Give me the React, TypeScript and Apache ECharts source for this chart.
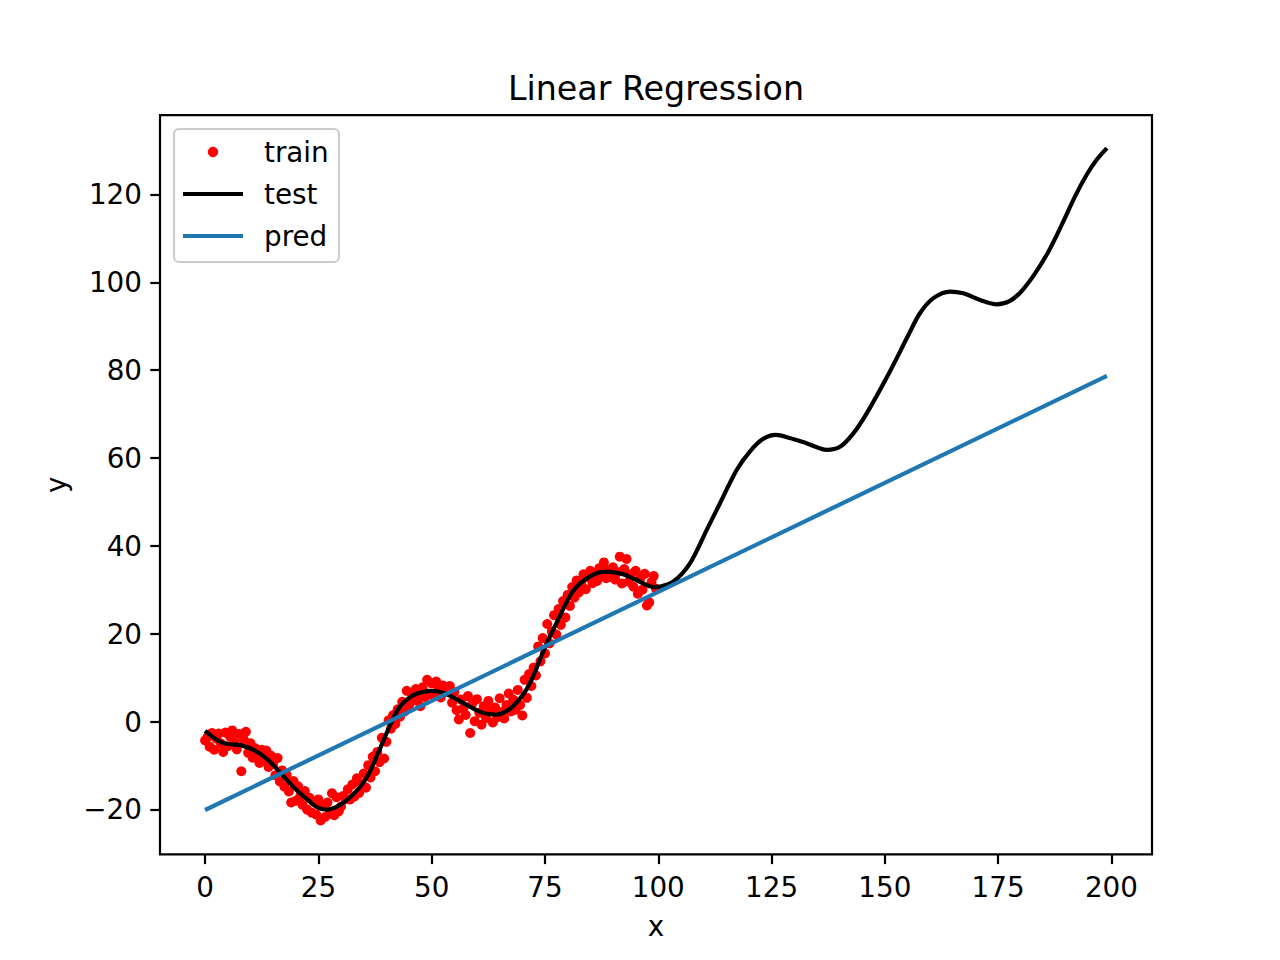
import React, { useEffect, useRef } from "react";
import * as echarts from "echarts";

// ---- data ----
const trainX = [
  0, 0.5, 1, 1.5, 2, 2.5, 3, 3.5, 4, 4.5, 5, 5.5, 6, 6.5, 7, 7.5, 8, 8.5, 9, 9.5,
  10, 10.5, 11, 11.5, 12, 12.5, 13, 13.5, 14, 14.5, 15, 15.5, 16, 16.5, 17, 17.5, 18, 18.5, 19, 19.5,
  20, 20.5, 21, 21.5, 22, 22.5, 23, 23.5, 24, 24.5, 25, 25.5, 26, 26.5, 27, 27.5, 28, 28.5, 29, 29.5,
  30, 30.5, 31, 31.5, 32, 32.5, 33, 33.5, 34, 34.5, 35, 35.5, 36, 36.5, 37, 37.5, 38, 38.5, 39, 39.5,
  40, 40.5, 41, 41.5, 42, 42.5, 43, 43.5, 44, 44.5, 45, 45.5, 46, 46.5, 47, 47.5, 48, 48.5, 49, 49.5,
  50, 50.5, 51, 51.5, 52, 52.5, 53, 53.5, 54, 54.5, 55, 55.5, 56, 56.5, 57, 57.5, 58, 58.5, 59, 59.5,
  60, 60.5, 61, 61.5, 62, 62.5, 63, 63.5, 64, 64.5, 65, 65.5, 66, 66.5, 67, 67.5, 68, 68.5, 69, 69.5,
  70, 70.5, 71, 71.5, 72, 72.5, 73, 73.5, 74, 74.5, 75, 75.5, 76, 76.5, 77, 77.5, 78, 78.5, 79, 79.5,
  80, 80.5, 81, 81.5, 82, 82.5, 83, 83.5, 84, 84.5, 85, 85.5, 86, 86.5, 87, 87.5, 88, 88.5, 89, 89.5,
  90, 90.5, 91, 91.5, 92, 92.5, 93, 93.5, 94, 94.5, 95, 95.5, 96, 96.5, 97, 97.5, 98, 98.5, 99, 99.5,
];
const trainY = [
  -4.2, -3.5, -5.6, -2.5, -6.3, -3.8, -2.6, -4.9, -6.8, -2.4, -5.5, -3.3, -1.9, -4.6, -6.2, -2.7, -11.2, -3.9, -2.2, -7.0,
  -4.8, -8.1, -5.9, -7.4, -9.3, -6.3, -8.8, -6.5, -10.2, -7.6, -9.6, -12.1, -8.2, -13.5, -11.0, -14.7, -12.0, -15.8, -18.3, -13.4,
  -17.9, -14.6, -16.9, -18.8, -15.7, -19.9, -17.2, -20.6, -18.1, -21.0, -17.6, -22.4, -19.0, -21.6, -18.3, -20.9, -16.2, -21.2, -17.1, -20.3,
  -19.2, -16.8, -17.5, -15.3, -17.6, -14.2, -16.9, -12.8, -16.1, -14.0, -11.7, -14.9, -9.8, -12.6, -7.9, -11.2, -6.8, -9.1, -3.6, -8.3,
  -4.5, 0.4, -1.5, 1.6, -0.4, 2.9, 1.2, 4.6, 2.4, 7.1, 3.8, 6.6, 4.9, 7.5, 5.2, 3.6, 7.9, 5.7, 9.6, 6.3,
  8.8, 5.9, 9.2, 7.4, 5.6, 8.3, 6.9, 7.8, 8.2, 4.4, 6.8, 2.7, 0.6, 5.1, 3.1, 1.6, 5.9, -2.5, 4.3, 0.2,
  5.2, 2.1, -0.6, 3.6, 0.9, 4.8, 2.6, -0.1, 3.3, 1.1, 5.4, 2.3, 0.8, 3.9, 6.5, 2.4, 5.1, 2.8, 7.3, 3.9,
  1.5, 9.6, 5.5, 10.9, 8.2, 12.4, 10.6, 17.2, 13.8, 19.1, 15.6, 22.3, 17.9, 20.6, 24.3, 19.9, 25.7, 22.1, 27.5, 23.8,
  28.9, 26.4, 30.7, 28.3, 32.2, 29.5, 31.3, 33.6, 30.2, 32.9, 34.4, 31.6, 33.9, 32.1, 35.0, 33.2, 36.3, 32.7, 34.6, 33.0,
  35.2, 32.4, 34.1, 37.6, 31.5, 34.8, 37.1, 31.9, 33.6, 30.8, 34.4, 29.2, 32.6, 30.1, 33.7, 26.5, 27.2, 31.8, 33.2, 30.3,
];

const testX = [
  0, 3, 5, 8, 11, 14, 17, 20, 23, 25, 27, 29, 31, 34, 36, 38, 41, 43, 46, 50,
  53, 57, 61, 64, 67, 70, 72, 75, 78, 81, 84, 88, 92, 95, 99, 100.4, 103.3, 107, 110.7, 113.6,
  117.3, 120.2, 123, 126, 129, 132.7, 137.2, 140.1, 143, 146, 151, 155, 157.7, 160.7, 164.4, 167.3, 171, 174.7,
  177.6, 180, 183, 186, 189, 192, 194.5, 196.7, 199,
];
const testY = [
  -2, -4.3, -5, -5.3, -6.5, -8.7, -12, -15.3, -18, -19.5, -19.9, -19.3, -18, -15, -12, -7.5, -0.3, 3.5, 6.1, 7.1,
  6.5, 4.3, 2.2, 1.7, 2.8, 6, 9.5, 17, 23.5, 29.5, 32.5, 34.2, 33.7, 32.4, 30.7, 30.8, 31.9, 36.1, 43.7, 49.7,
  57.3, 61.5, 64.3, 65.3, 64.6, 63.4, 61.9, 62.6, 65.6, 70.2, 79.5, 87.6, 92.9, 96.4, 97.9, 97.5, 96, 95,
  95.8, 97.8, 101.8, 106.8, 113, 119.6, 124.4, 127.8, 130.5,
];

const predX = [0, 199];
const predY = [-20, 78.7];

const xTicks = [0, 25, 50, 75, 100, 125, 150, 175, 200];
const yTicks = [-20, 0, 20, 40, 60, 80, 100, 120];

const legendLabels = ["train", "test", "pred"];

const FONT = "DejaVu Sans";
const fmt = (v: number) => String(v).replace("-", "\u2212");

export default function App() {
  const ref = useRef<HTMLDivElement>(null);
  useEffect(() => {
    if (!ref.current) return;
    const chart = echarts.init(ref.current, undefined, { renderer: "svg" });
    const zip = (xs: number[], ys: number[]) => xs.map((x, i) => [x, ys[i]]);
    const fs = 27.8;
    chart.setOption({
      animation: false,
      backgroundColor: "#ffffff",
      title: {
        text: "Linear Regression",
        left: 651,
        textAlign: "center",
        top: 67,
        textStyle: { fontFamily: FONT, fontSize: 33.3, fontWeight: "normal", color: "#000" },
      },
      grid: {
        left: 160,
        right: 128,
        top: 115.2,
        bottom: 105.6,
        show: true,
        borderColor: "#000",
        borderWidth: 2.2,
        backgroundColor: "transparent",
      },
      xAxis: {
        type: "value",
        min: -9.95,
        max: 208.95,
        name: "x",
        nameLocation: "middle",
        nameGap: 58,
        nameTextStyle: { fontFamily: FONT, fontSize: fs, color: "#000" },
        axisLine: { show: false, onZero: false },
        splitLine: { show: false },
        axisTick: {
          show: true,
          customValues: xTicks,
          length: 9.7,
          lineStyle: { color: "#000", width: 2.2 },
        },
        axisLabel: {
          customValues: xTicks,
          margin: 19,
          fontFamily: FONT,
          fontSize: fs,
          color: "#000",
          formatter: (v: number) => fmt(v),
        },
      },
      yAxis: {
        type: "value",
        min: -30.1,
        max: 138.0,
        name: "y",
        nameLocation: "middle",
        nameGap: 90,
        nameTextStyle: { fontFamily: FONT, fontSize: fs, color: "#000" },
        axisLine: { show: false, onZero: false },
        splitLine: { show: false },
        axisTick: {
          show: true,
          customValues: yTicks,
          length: 9.7,
          lineStyle: { color: "#000", width: 2.2 },
        },
        axisLabel: {
          customValues: yTicks,
          margin: 18,
          fontFamily: FONT,
          fontSize: fs,
          color: "#000",
          formatter: (v: number) => fmt(v),
        },
      },
      series: [
        {
          name: "train",
          type: "scatter",
          data: zip(trainX, trainY),
          symbol: "circle",
          symbolSize: 10,
          itemStyle: { color: "#ff0000", opacity: 1 },
          z: 2,
        },
        {
          name: "test",
          type: "line",
          data: zip(testX, testY),
          smooth: 0.3,
          showSymbol: false,
          symbol: "none",
          lineStyle: { color: "#000000", width: 4.2 },
          z: 3,
        },
        {
          name: "pred",
          type: "line",
          data: zip(predX, predY),
          showSymbol: false,
          symbol: "none",
          lineStyle: { color: "#1f77b4", width: 4.2 },
          z: 4,
        },
      ],
      graphic: [
        {
          type: "group",
          z: 100,
          children: [
            {
              type: "rect",
              shape: { x: 174, y: 129, width: 165, height: 133, r: 5 },
              style: { fill: "rgba(255,255,255,0.8)", stroke: "#cccccc", lineWidth: 2.2 },
            },
            {
              type: "circle",
              shape: { cx: 213, cy: 152, r: 5.2 },
              style: { fill: "#ff0000" },
            },
            {
              type: "line",
              shape: { x1: 183, y1: 194, x2: 243, y2: 194 },
              style: { stroke: "#000000", lineWidth: 4.2 },
            },
            {
              type: "line",
              shape: { x1: 183, y1: 236, x2: 243, y2: 236 },
              style: { stroke: "#1f77b4", lineWidth: 4.2 },
            },
            ...legendLabels.map((t, i) => ({
              type: "text",
              x: 264,
              y: 152 + i * 42,
              style: {
                text: t,
                fontFamily: FONT,
                fontSize: fs,
                fill: "#000",
                align: "left",
                verticalAlign: "middle",
              },
            })),
          ],
        },
      ],
    });
    return () => chart.dispose();
  }, []);
  return (
    <div
      ref={ref}
      style={{ position: "fixed", left: 0, top: 0, width: 1280, height: 960, background: "#fff" }}
    />
  );
}
